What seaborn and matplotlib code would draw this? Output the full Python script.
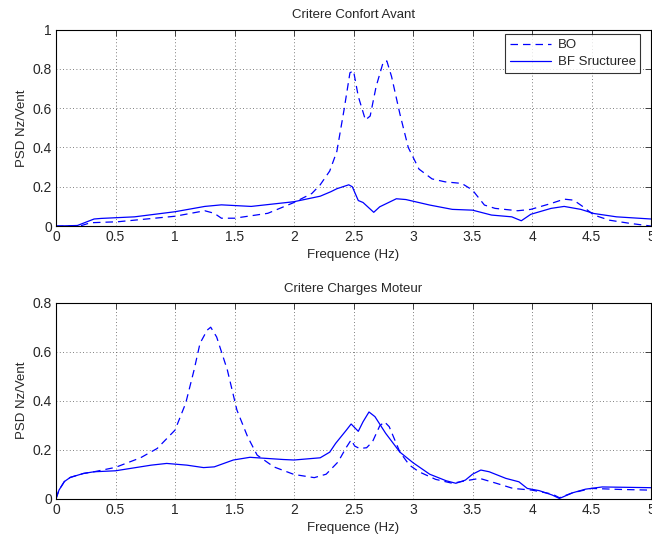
import matplotlib
matplotlib.use("Agg")
import matplotlib.pyplot as plt
import seaborn as sns
import pandas as pd

# --- Critere Confort Avant -------------------------------------------------
confort_bo_f = [0.0, 0.2, 0.29, 0.52, 1.0, 1.25, 1.33, 1.39, 1.5, 1.78, 2.0,
                2.15, 2.22, 2.3, 2.36, 2.42, 2.47, 2.5, 2.54, 2.6, 2.64, 2.69,
                2.75, 2.78, 2.82, 2.89, 2.96, 3.05, 3.16, 3.27, 3.41, 3.5,
                3.6, 3.69, 3.88, 3.99, 4.16, 4.27, 4.35, 4.43, 4.52, 4.65,
                4.82, 5.0]
confort_bo_psd = [0.0, 0.0, 0.017, 0.022, 0.05, 0.078, 0.065, 0.04, 0.04,
                  0.065, 0.12, 0.166, 0.21, 0.28, 0.38, 0.59, 0.78, 0.79,
                  0.66, 0.54, 0.56, 0.71, 0.835, 0.84, 0.76, 0.57, 0.40,
                  0.29, 0.24, 0.225, 0.217, 0.183, 0.107, 0.09, 0.078, 0.085,
                  0.115, 0.137, 0.132, 0.098, 0.056, 0.03, 0.014, 0.0]

confort_bf_f = [0.0, 0.18, 0.32, 0.38, 0.66, 1.0, 1.25, 1.39, 1.64, 2.0,
                2.22, 2.31, 2.36, 2.46, 2.49, 2.54, 2.58, 2.67, 2.72, 2.86,
                2.94, 3.14, 3.33, 3.5, 3.66, 3.83, 3.91, 3.99, 4.16, 4.27,
                4.41, 4.52, 4.71, 5.0]
confort_bf_psd = [0.0, 0.003, 0.036, 0.039, 0.047, 0.073, 0.10, 0.108, 0.10,
                  0.124, 0.152, 0.175, 0.19, 0.21, 0.20, 0.13, 0.12, 0.07,
                  0.098, 0.139, 0.135, 0.107, 0.085, 0.081, 0.056, 0.047,
                  0.027, 0.06, 0.09, 0.10, 0.085, 0.064, 0.047, 0.036]

# --- Critere Charges Moteur ------------------------------------------------
charges_bo_f = [0.0, 0.025, 0.07, 0.12, 0.23, 0.32, 0.5, 0.71, 0.85, 1.0,
                1.09, 1.16, 1.21, 1.27, 1.30, 1.35, 1.44, 1.52, 1.61, 1.69,
                1.83, 2.0, 2.17, 2.27, 2.37, 2.44, 2.48, 2.51, 2.55, 2.61,
                2.66, 2.72, 2.76, 2.8, 2.89, 2.97, 3.05, 3.19, 3.33, 3.44,
                3.56, 3.7, 3.84, 4.0, 4.17, 4.23, 4.34, 4.5, 4.73, 5.0]
charges_bo_psd = [0.0, 0.035, 0.07, 0.087, 0.103, 0.11, 0.128, 0.167, 0.205,
                  0.28, 0.39, 0.525, 0.634, 0.688, 0.70, 0.66, 0.525, 0.362,
                  0.253, 0.178, 0.13, 0.099, 0.086, 0.10, 0.15, 0.21, 0.24,
                  0.215, 0.205, 0.208, 0.233, 0.297, 0.314, 0.294, 0.19,
                  0.137, 0.11, 0.079, 0.063, 0.073, 0.083, 0.063, 0.042,
                  0.035, 0.019, 0.004, 0.024, 0.042, 0.038, 0.035]

charges_bf_f = [0.0, 0.025, 0.07, 0.12, 0.23, 0.32, 0.5, 0.8, 0.93, 1.1,
                1.24, 1.33, 1.49, 1.63, 1.91, 2.0, 2.22, 2.3, 2.35, 2.44,
                2.48, 2.54, 2.58, 2.63, 2.68, 2.77, 2.89, 3.0, 3.14, 3.28,
                3.36, 3.44, 3.5, 3.57, 3.64, 3.78, 3.89, 3.96, 4.06, 4.17,
                4.23, 4.34, 4.45, 4.59, 5.0]
charges_bf_psd = [0.0, 0.035, 0.07, 0.087, 0.103, 0.11, 0.114, 0.137, 0.144,
                  0.137, 0.127, 0.13, 0.158, 0.169, 0.16, 0.158, 0.167, 0.19,
                  0.226, 0.28, 0.305, 0.275, 0.314, 0.354, 0.335, 0.267,
                  0.19, 0.147, 0.10, 0.073, 0.063, 0.076, 0.10, 0.117, 0.11,
                  0.083, 0.069, 0.042, 0.033, 0.015, 0.001, 0.024, 0.039,
                  0.048, 0.045]

series_labels = ["BO", "BF Sructuree"]
x_ticks = [0, 0.5, 1, 1.5, 2, 2.5, 3, 3.5, 4, 4.5, 5]
x_tick_labels = ["0", "0.5", "1", "1.5", "2", "2.5", "3", "3.5", "4", "4.5", "5"]
top_y_ticks = [0, 0.2, 0.4, 0.6, 0.8, 1.0]
top_y_labels = ["0", "0.2", "0.4", "0.6", "0.8", "1"]
bottom_y_ticks = [0, 0.2, 0.4, 0.6, 0.8]
bottom_y_labels = ["0", "0.2", "0.4", "0.6", "0.8"]

sns.set_style("white")
plt.rcParams["font.family"] = ["Liberation Sans", "DejaVu Sans"]
plt.rcParams["font.size"] = 8

fig = plt.figure(figsize=(6.52, 5.37), dpi=100)
ax_top = fig.add_axes([0.0859, 0.579, 0.9126, 0.366])
ax_bot = fig.add_axes([0.0859, 0.0713, 0.9126, 0.365])


def draw_panel(ax, bo_f, bo_psd, bf_f, bf_psd, yticks, ylabels, title):
    bo = pd.DataFrame({"f": bo_f, "psd": bo_psd})
    bf = pd.DataFrame({"f": bf_f, "psd": bf_psd})
    sns.lineplot(data=bo, x="f", y="psd", ax=ax, color="blue", lw=0.9,
                 linestyle=(0, (6, 4)), label=series_labels[0], sort=False)
    sns.lineplot(data=bf, x="f", y="psd", ax=ax, color="blue", lw=0.9,
                 label=series_labels[1], sort=False)
    ax.set_xlim(0, 5)
    ax.set_ylim(yticks[0], yticks[-1])
    ax.set_xticks(x_ticks)
    ax.set_xticklabels(x_tick_labels)
    ax.set_yticks(yticks)
    ax.set_yticklabels(ylabels)
    ax.grid(True, linestyle=(0, (1, 3)), color="#555555", lw=0.6)
    ax.tick_params(direction="in", length=4, width=0.6, top=True, right=True,
                   labelsize=10, pad=3)
    for s in ax.spines.values():
        s.set_color("black")
        s.set_linewidth(0.8)
    ax.set_xlabel("Frequence (Hz)", fontsize=9.5, labelpad=3.5)
    ax.set_ylabel("PSD Nz/Vent", fontsize=9.5, labelpad=3)
    ax.set_title(title, fontsize=9.5, pad=8)


draw_panel(ax_top, confort_bo_f, confort_bo_psd, confort_bf_f, confort_bf_psd,
           top_y_ticks, top_y_labels, "Critere Confort Avant")
draw_panel(ax_bot, charges_bo_f, charges_bo_psd, charges_bf_f, charges_bf_psd,
           bottom_y_ticks, bottom_y_labels, "Critere Charges Moteur")

leg = ax_top.legend(loc="upper right", bbox_to_anchor=(0.982, 0.975),
                    frameon=True, fancybox=False, fontsize=9.5,
                    handlelength=3.1, borderpad=0.35, labelspacing=0.35,
                    handletextpad=0.5, borderaxespad=0.0)
leg.get_frame().set_edgecolor("black")
leg.get_frame().set_linewidth(0.8)
ax_bot.get_legend().remove()

fig.savefig("out.png", dpi=100)
